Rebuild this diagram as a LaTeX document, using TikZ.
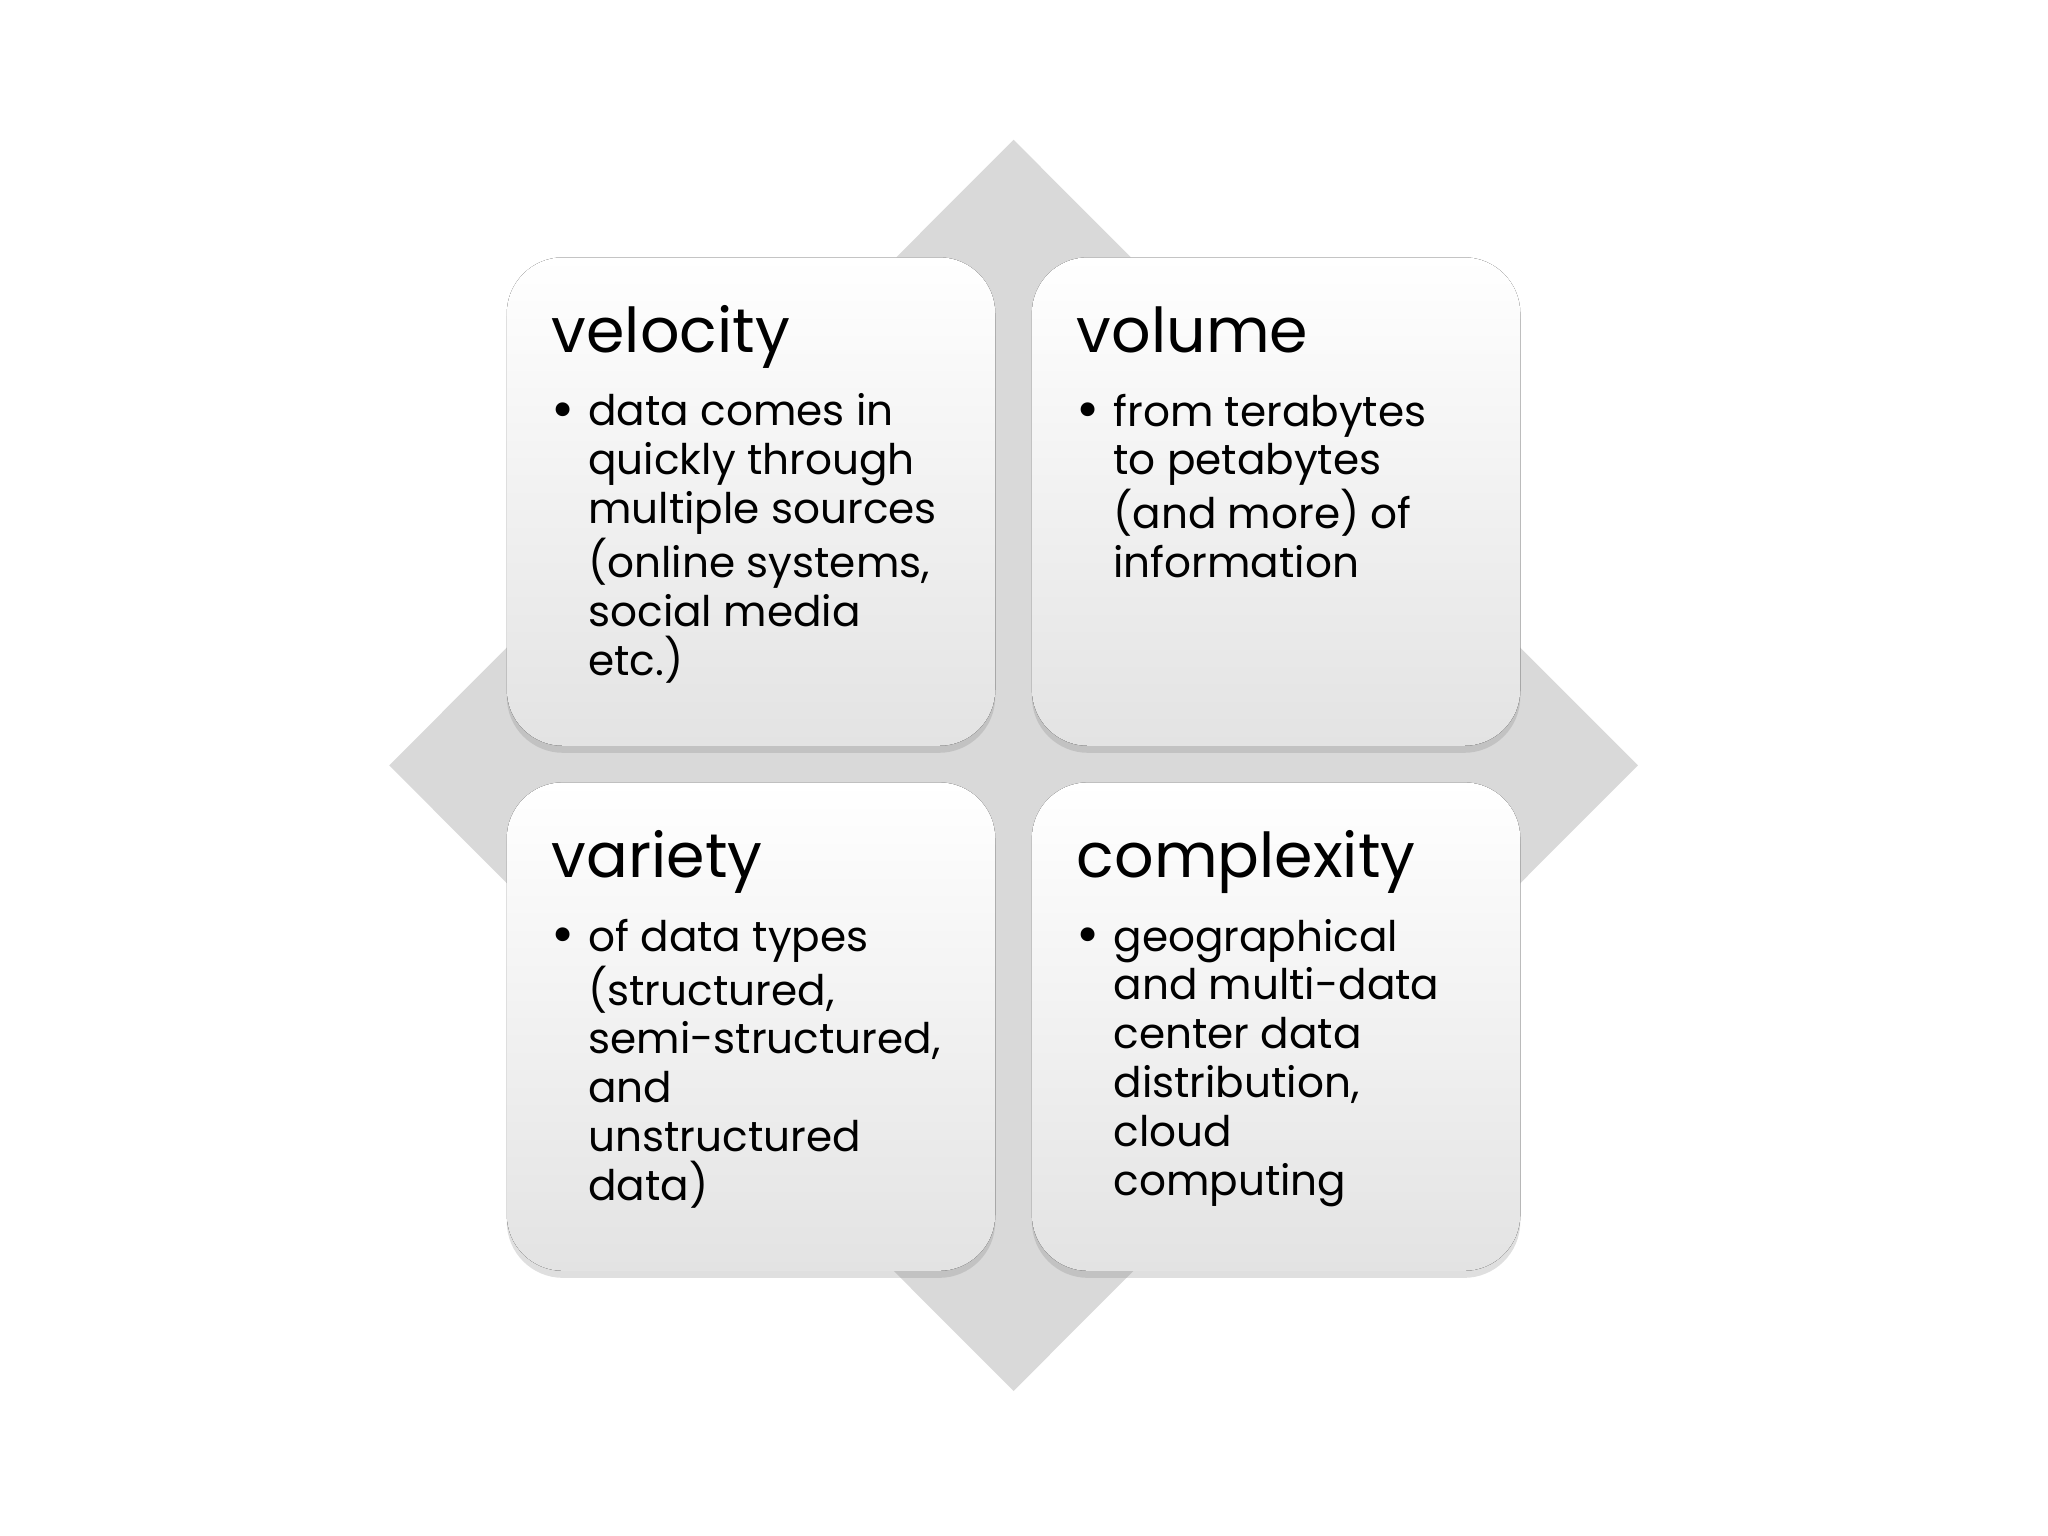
\documentclass[tikz,border=0pt]{standalone}
\usepackage{fontspec}
\setmainfont{Poppins}
\usetikzlibrary{shadows}
\begin{document}
\begin{tikzpicture}[x=0.013061cm,y=-0.013061cm,
  card/.style={rounded corners=16pt,top color=white,bottom color=gray!22,draw=none,
    drop shadow={shadow xshift=0pt,shadow yshift=-2pt,opacity=0.25,fill=gray}},
  ttl/.style={anchor=base west,font=\fontsize{17.6}{22}\selectfont,inner sep=0pt},
  body/.style={anchor=north west,font=\fontsize{12}{13.9}\selectfont,inner sep=0pt,align=left}]
\useasboundingbox (0,0) rectangle (1568,1176);
\fill[gray!30] (776,107) -- (1254,586) -- (776,1065) -- (298,586) -- cycle;
\newcommand{\card}[5]{%
  \fill[card] (#1,#2) rectangle ++(374,374);
  \node[ttl] (#3t) at (#1+34,#2+73) {#4};
  \node[anchor=base west,inner sep=0pt,font=\fontsize{16}{13.9}\selectfont] (#3b) at (#1+34,#2+131) {•};
  \node[body] (#3x) at (#1+62,#2+104) {#5};}
\card{388}{197}{vel}{velocity}{data comes in\\ quickly through\\ multiple sources\\ (online systems,\\ social media\\ etc.)}
\card{790}{197}{vol}{volume}{from terabytes\\ to petabytes\\ (and more) of\\ information}
\card{388}{599}{var}{variety}{of data types\\ (structured,\\ semi-structured,\\ and\\ unstructured\\ data)}
\card{790}{599}{com}{complexity}{geographical\\ and multi-data\\ center data\\ distribution,\\ cloud\\ computing}
\end{tikzpicture}
\end{document}
